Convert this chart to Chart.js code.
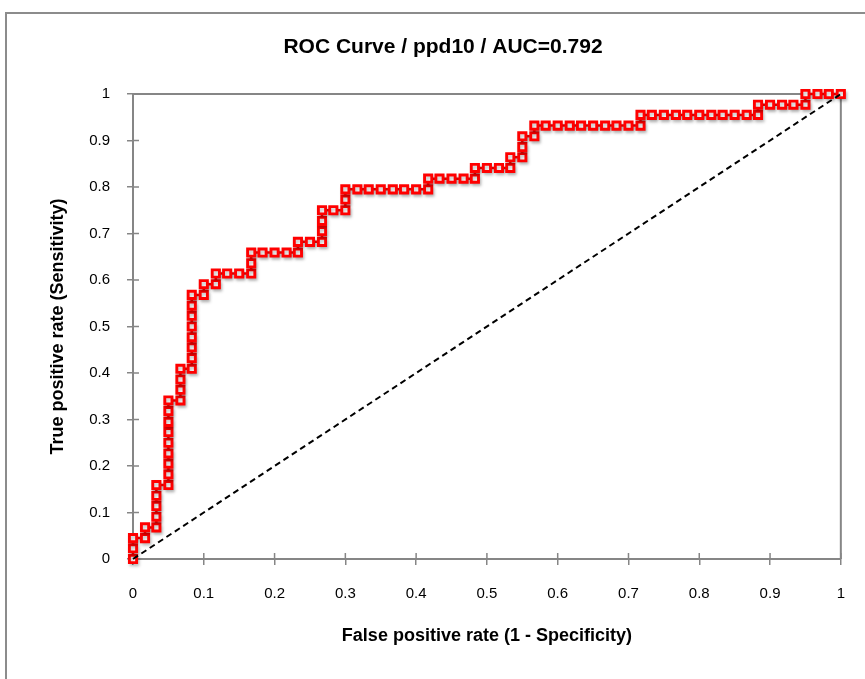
<!DOCTYPE html>
<html>
<head>
<meta charset="utf-8">
<title>ROC Curve</title>
<script src="https://cdn.jsdelivr.net/npm/chart.js@4.4.0/dist/chart.umd.min.js"></script>
<style>
    html, body { margin: 0; padding: 0; background: #fff; }
    #wrap { position: relative; width: 865px; height: 679px; overflow: hidden; background: #fff; }
    #frame { position: absolute; left: 5px; top: 12px; width: 900px; height: 720px; border: 2px solid #8c8c8c; box-sizing: border-box; }
    #holder { position: absolute; left: 0; top: 0; width: 865px; height: 679px; }
</style>
</head>
<body>
<div id="wrap">
    <div id="frame"></div>
    <div id="holder"><canvas id="rocChart"></canvas></div>
</div>
<script>
// ROC points: false positive rate / true positive rate
const fpr = [
    0, 0, 0, 0.017, 0.017, 0.033, 0.033, 0.033, 0.033, 0.033,
    0.05, 0.05, 0.05, 0.05, 0.05, 0.05, 0.05, 0.05, 0.05,
    0.067, 0.067, 0.067, 0.067,
    0.083, 0.083, 0.083, 0.083, 0.083, 0.083, 0.083, 0.083,
    0.1, 0.1, 0.117, 0.117, 0.133, 0.15, 0.167, 0.167, 0.167,
    0.183, 0.2, 0.217, 0.233, 0.233, 0.25, 0.267, 0.267, 0.267, 0.267,
    0.283, 0.3, 0.3, 0.3,
    0.317, 0.333, 0.35, 0.367, 0.383, 0.4, 0.417, 0.417,
    0.433, 0.45, 0.467, 0.483, 0.483,
    0.5, 0.517, 0.533, 0.533, 0.55, 0.55, 0.55, 0.567, 0.567,
    0.583, 0.6, 0.617, 0.633, 0.65, 0.667, 0.683, 0.7, 0.717, 0.717,
    0.733, 0.75, 0.767, 0.783, 0.8, 0.817, 0.833, 0.85, 0.867, 0.883, 0.883,
    0.9, 0.917, 0.933, 0.95, 0.95,
    0.967, 0.983, 1
];
const tpr = [
    0, 0.023, 0.045, 0.045, 0.068, 0.068, 0.091, 0.114, 0.136, 0.159,
    0.159, 0.182, 0.205, 0.227, 0.25, 0.273, 0.295, 0.318, 0.341,
    0.341, 0.364, 0.386, 0.409,
    0.409, 0.432, 0.455, 0.477, 0.5, 0.523, 0.545, 0.568,
    0.568, 0.591, 0.591, 0.614, 0.614, 0.614, 0.614, 0.636, 0.659,
    0.659, 0.659, 0.659, 0.659, 0.682, 0.682, 0.682, 0.705, 0.727, 0.75,
    0.75, 0.75, 0.773, 0.795,
    0.795, 0.795, 0.795, 0.795, 0.795, 0.795, 0.795, 0.818,
    0.818, 0.818, 0.818, 0.818, 0.841,
    0.841, 0.841, 0.841, 0.864, 0.864, 0.886, 0.909, 0.909, 0.932,
    0.932, 0.932, 0.932, 0.932, 0.932, 0.932, 0.932, 0.932, 0.932, 0.955,
    0.955, 0.955, 0.955, 0.955, 0.955, 0.955, 0.955, 0.955, 0.955, 0.955, 0.977,
    0.977, 0.977, 0.977, 0.977, 1,
    1, 1, 1
];
// reference diagonal (random classifier)
const diagX = [0, 1];
const diagY = [0, 1];

const tickLabels = ['0', '0.1', '0.2', '0.3', '0.4', '0.5', '0.6', '0.7', '0.8', '0.9', '1'];
const chartTitle = 'ROC Curve / ppd10 / AUC=0.792';
const xTitle = 'False positive rate (1 - Specificity)';
const yTitle = 'True positive rate (Sensitivity)';

const FONT = "'Liberation Sans', Arial, sans-serif";
const AXIS_GREY = '#868686';

Chart.defaults.font.family = FONT;
Chart.defaults.color = '#000';

// title, centred on the whole (wider) chart frame like the original
const titlePlugin = {
    id: 'frameTitle',
    afterDraw(chart) {
        const ctx = chart.ctx;
        ctx.save();
        ctx.font = 'bold 21px ' + FONT;
        ctx.fillStyle = '#000';
        ctx.textAlign = 'center';
        ctx.textBaseline = 'middle';
        ctx.fillText(chartTitle, 443, 47);
        ctx.restore();
    }
};

// plot area box (top/right) and inner half of the crossing tick marks
const areaBoxPlugin = {
    id: 'areaBox',
    beforeDatasetsDraw(chart) {
        const {ctx, chartArea: a, scales} = chart;
        ctx.save();
        ctx.strokeStyle = AXIS_GREY;
        ctx.lineWidth = 2;
        ctx.beginPath();
        ctx.moveTo(a.left, a.top);
        ctx.lineTo(a.right, a.top);
        ctx.lineTo(a.right, a.bottom);
        ctx.stroke();
        ctx.lineWidth = 1.5;
        ctx.beginPath();
        scales.x.ticks.forEach(t => {
            const px = scales.x.getPixelForValue(t.value);
            ctx.moveTo(px, a.bottom);
            ctx.lineTo(px, a.bottom - 6);
        });
        scales.y.ticks.forEach(t => {
            const py = scales.y.getPixelForValue(t.value);
            ctx.moveTo(a.left, py);
            ctx.lineTo(a.left + 6, py);
        });
        ctx.stroke();
        ctx.restore();
    }
};

// soft drop shadow under the ROC series
const shadowPlugin = {
    id: 'rocShadow',
    beforeDatasetDraw(chart, args) {
        if (args.index !== 1) return;
        const ctx = chart.ctx;
        ctx.save();
        ctx.shadowColor = 'rgba(0,0,0,0.22)';
        ctx.shadowBlur = 3;
        ctx.shadowOffsetX = 1.5;
        ctx.shadowOffsetY = 2.5;
    },
    afterDatasetDraw(chart, args) {
        if (args.index !== 1) return;
        chart.ctx.restore();
    }
};

function axisOptions(titleText, titlePadding, labelPadding, fit) {
    return {
        type: 'linear',
        min: 0,
        max: 1,
        ticks: {
            stepSize: 0.1,
            padding: labelPadding,
            color: '#000',
            font: { size: 15 },
            callback: (value, index) => tickLabels[index]
        },
        grid: {
            drawOnChartArea: false,
            drawTicks: true,
            tickLength: 6,
            color: AXIS_GREY,
            lineWidth: 1.5
        },
        border: { display: true, color: AXIS_GREY, width: 2 },
        title: {
            display: true,
            text: titleText,
            color: '#000',
            font: { size: 18, weight: 'bold' },
            padding: titlePadding
        },
        afterFit: fit
    };
}

const data = {
    datasets: [{
        label: 'diagonal',
        data: diagX.map((x, i) => ({ x: x, y: diagY[i] })),
        showLine: true,
        borderColor: '#000',
        borderWidth: 2,
        borderDash: [6, 4],
        pointRadius: 0,
        clip: false
    }, {
        label: 'ppd10',
        data: fpr.map((x, i) => ({ x: x, y: tpr[i] })),
        showLine: true,
        borderColor: '#ff0000',
        borderWidth: 2.5,
        pointStyle: 'rect',
        pointRadius: 5.1,
        pointBorderWidth: 2.9,
        pointBorderColor: '#ff0000',
        pointBackgroundColor: '#ffffff',
        clip: false
    }]
};

const config = {
    type: 'scatter',
    data,
    options: {
        responsive: true,
        maintainAspectRatio: false,
        animation: false,
        layout: {
            padding: { top: 94, right: 24, left: 0, bottom: 0 }
        },
        scales: {
            x: axisOptions(xTitle, { top: 0, bottom: 32 }, 20, s => { s.height = 120; }),
            y: axisOptions(yTitle, { top: 47, bottom: 0 }, 17, s => { s.width = 133; })
        },
        plugins: {
            legend: { display: false },
            title: { display: false },
            tooltip: { enabled: false }
        }
    },
    plugins: [areaBoxPlugin, shadowPlugin, titlePlugin]
};

new Chart(document.getElementById('rocChart'), config);
</script>
</body>
</html>
